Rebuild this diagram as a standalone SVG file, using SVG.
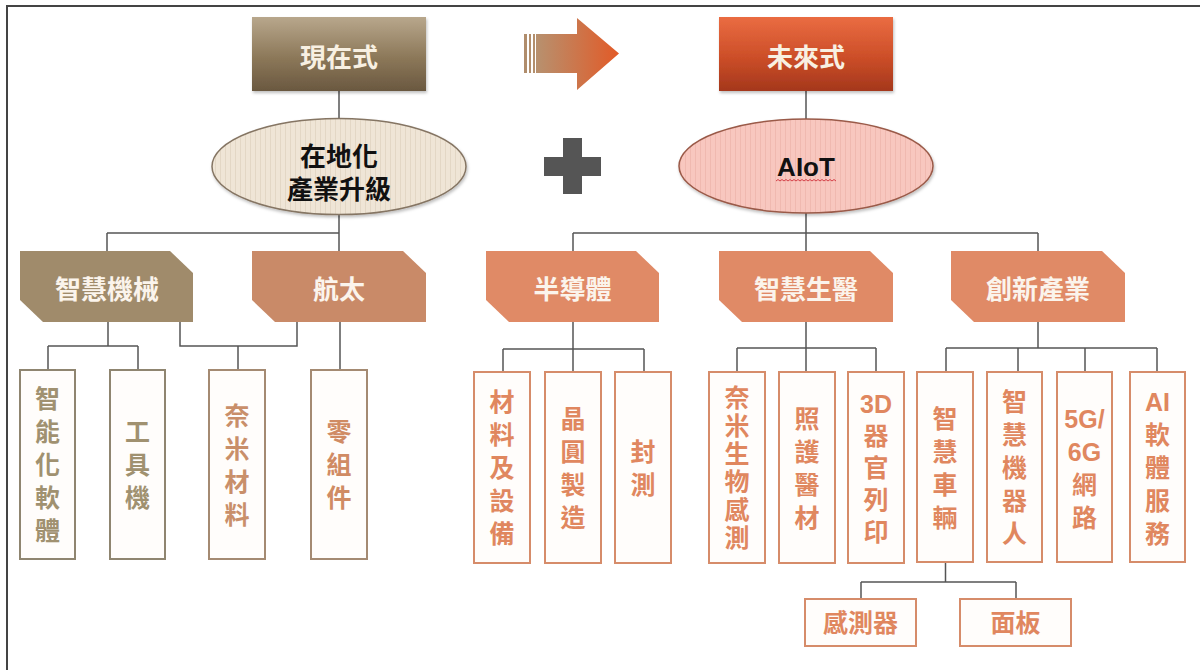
<svg xmlns="http://www.w3.org/2000/svg" width="1200" height="670" viewBox="0 0 1200 670">
<defs>
  <linearGradient id="gNow" x1="0" y1="0" x2="0" y2="1">
    <stop offset="0" stop-color="#b8a78c"/>
    <stop offset="0.55" stop-color="#8c7859"/>
    <stop offset="1" stop-color="#6a5840"/>
  </linearGradient>
  <linearGradient id="gFut" x1="0" y1="0" x2="0" y2="1">
    <stop offset="0" stop-color="#ea6c42"/>
    <stop offset="0.55" stop-color="#cc4e28"/>
    <stop offset="1" stop-color="#a4371c"/>
  </linearGradient>
  <linearGradient id="gArrow" x1="0" y1="0" x2="1" y2="0">
    <stop offset="0" stop-color="#b7916f"/>
    <stop offset="1" stop-color="#e25a27"/>
  </linearGradient>
  <pattern id="stripe1" width="5" height="10" patternUnits="userSpaceOnUse">
    <rect width="5" height="10" fill="#efe5d6"/>
    <rect width="1" height="10" fill="#e3d7c5"/>
  </pattern>
  <pattern id="stripe2" width="5" height="10" patternUnits="userSpaceOnUse">
    <rect width="5" height="10" fill="#f8c7bf"/>
    <rect width="1" height="10" fill="#f0b9b0"/>
  </pattern>
  <filter id="sh" x="-10%" y="-10%" width="125%" height="130%">
    <feDropShadow dx="1" dy="2" stdDeviation="1.5" flood-color="#000" flood-opacity="0.25"/>
  </filter>
</defs>
<style>
  text { font-family: "Liberation Sans", "Noto Sans CJK TC", sans-serif; font-weight: 700; text-anchor: middle; }
  .conn { fill: none; stroke: #555; stroke-width: 1.5; }
  .frame { fill: none; stroke: #444; stroke-width: 2; }
  .top { font-size: 26px; fill: #f8f0e2; }
  .cat { font-size: 26px; fill: #fbf4ec; }
  .ell { font-size: 26px; fill: #111; }
  .leafA { fill: #fffdfb; stroke: #8f8570; stroke-width: 2; }
  .leafB { fill: #fffdfb; stroke: #a48a72; stroke-width: 2; }
  .leafC { fill: #fffdfb; stroke: #d68c6a; stroke-width: 2; }
  .tA { font-size: 25px; fill: #a09170; }
  .tB { font-size: 25px; fill: #c98f6a; }
  .tC { font-size: 25px; fill: #e0875f; }
</style>

<path class="frame" d="M7,670 V6 H1200"/>

<g id="connectors">
  <path class="conn" d="M339,91 V119"/>
  <path class="conn" d="M339,214 V251 M107,233 H339 M107,233 V251"/>
  <path class="conn" d="M806,91 V119"/>
  <path class="conn" d="M806,213 V251 M573,233 H1038 M573,233 V251 M1038,233 V251"/>
  <path class="conn" d="M108,322 V346 M48,346 H138 M48,346 V370 M138,346 V370"/>
  <path class="conn" d="M180,322 V346 H297 V322 M238,346 V370"/>
  <path class="conn" d="M340,322 V370"/>
  <path class="conn" d="M573,322 V372 M503,349 H644 M503,349 V372 M644,349 V372"/>
  <path class="conn" d="M806,322 V372 M737,348 H876 M737,348 V372 M876,348 V372"/>
  <path class="conn" d="M1038,322 V348 M946,348 H1157 M946,348 V372 M1018,348 V372 M1085,348 V372 M1157,348 V372"/>
  <path class="conn" d="M945.5,562 V582 M861,582 H1016 M861,582 V599 M1016,582 V599"/>
</g>

<g id="node-now">
  <rect x="252" y="17" width="174" height="74" fill="url(#gNow)" filter="url(#sh)"/>
  <text class="top" x="339" y="67">現在式</text>
</g>

<g id="arrow">
  <rect x="524" y="34" width="3" height="39" fill="#b08d6c"/>
  <rect x="529" y="34" width="2" height="39" fill="#b28e6c"/>
  <rect x="533" y="34" width="2" height="39" fill="#b38f6d"/>
  <path d="M536,34 H577 V18 L619,53.5 L577,90 V73 H536 Z" fill="url(#gArrow)"/>
</g>

<g id="node-future">
  <rect x="719" y="17" width="174" height="74" fill="url(#gFut)" filter="url(#sh)"/>
  <text class="top" x="806" y="67">未來式</text>
</g>

<g id="node-local">
  <ellipse cx="339" cy="166.5" rx="127" ry="48" fill="url(#stripe1)" stroke="#857563" stroke-width="1.5" filter="url(#sh)"/>
  <text class="ell" x="339" y="166">在地化</text>
  <text class="ell" x="339" y="199">產業升級</text>
</g>

<g id="plus">
  <rect x="563" y="138" width="19" height="56" fill="#555"/>
  <rect x="544" y="157" width="57" height="19" fill="#555"/>
</g>

<g id="node-aiot">
  <ellipse cx="806" cy="166" rx="127" ry="47" fill="url(#stripe2)" stroke="#9a5a48" stroke-width="1.5" filter="url(#sh)"/>
  <text class="ell" x="806" y="176">AIoT</text>
  <path d="M776,181 l2,-1.5 l2,1.5 l2,-1.5 l2,1.5 l2,-1.5 l2,1.5 l2,-1.5 l2,1.5 l2,-1.5 l2,1.5 l2,-1.5 l2,1.5 l2,-1.5 l2,1.5 l2,-1.5 l2,1.5 l2,-1.5 l2,1.5 l2,-1.5 l2,1.5 l2,-1.5 l2,1.5 l2,-1.5 l2,1.5 l2,-1.5 l2,1.5 l2,-1.5 l2,1.5 l2,-1.5 l2,1.5" fill="none" stroke="#d0303a" stroke-width="0.9"/>
</g>

<g id="cat-machinery">
  <path d="M20,251 H170 L193,273 V322 H43 L20,300 Z" fill="#a08b6b"/>
  <text class="cat" x="107" y="299">智慧機械</text>
</g>
<g id="cat-aerospace">
  <path d="M252,251 H403 L426,273 V322 H275 L252,300 Z" fill="#c98a68"/>
  <text class="cat" x="339" y="299">航太</text>
</g>
<g id="cat-semi">
  <path d="M486,251 H636 L659,273 V322 H509 L486,300 Z" fill="#e08a66"/>
  <text class="cat" x="572.5" y="299">半導體</text>
</g>
<g id="cat-biomed">
  <path d="M719,251 H870 L893,273 V322 H742 L719,300 Z" fill="#e08a66"/>
  <text class="cat" x="806" y="299">智慧生醫</text>
</g>
<g id="cat-innov">
  <path d="M951,251 H1102 L1125,273 V322 H974 L951,300 Z" fill="#e08a66"/>
  <text class="cat" x="1038" y="299">創新產業</text>
</g>

<g id="leaf-software">
  <rect class="leafA" x="20" y="370" width="55" height="189"/>
  <text class="tA"><tspan x="47.5" y="408">智</tspan><tspan x="47.5" y="441">能</tspan><tspan x="47.5" y="474">化</tspan><tspan x="47.5" y="507">軟</tspan><tspan x="47.5" y="540">體</tspan></text>
</g>
<g id="leaf-machine-tool">
  <rect class="leafA" x="110" y="370" width="55" height="189"/>
  <text class="tA"><tspan x="137.5" y="441">工</tspan><tspan x="137.5" y="474">具</tspan><tspan x="137.5" y="507">機</tspan></text>
</g>
<g id="leaf-nanomaterial">
  <rect class="leafB" x="209" y="370" width="56" height="189"/>
  <text class="tB"><tspan x="237" y="424.5">奈</tspan><tspan x="237" y="457.5">米</tspan><tspan x="237" y="490.5">材</tspan><tspan x="237" y="523.5">料</tspan></text>
</g>
<g id="leaf-parts">
  <rect class="leafB" x="311" y="370" width="56" height="189"/>
  <text class="tB" style="fill:#d08b64"><tspan x="339" y="441">零</tspan><tspan x="339" y="474">組</tspan><tspan x="339" y="507">件</tspan></text>
</g>

<g id="leaf-equipment">
  <rect class="leafC" x="474" y="372" width="56" height="191"/>
  <text class="tC"><tspan x="502" y="411">材</tspan><tspan x="502" y="444">料</tspan><tspan x="502" y="477">及</tspan><tspan x="502" y="510">設</tspan><tspan x="502" y="543">備</tspan></text>
</g>
<g id="leaf-wafer">
  <rect class="leafC" x="545" y="372" width="56" height="191"/>
  <text class="tC"><tspan x="573" y="427.5">晶</tspan><tspan x="573" y="460.5">圓</tspan><tspan x="573" y="493.5">製</tspan><tspan x="573" y="526.5">造</tspan></text>
</g>
<g id="leaf-package">
  <rect class="leafC" x="615" y="372" width="56" height="191"/>
  <text class="tC"><tspan x="643" y="460.5">封</tspan><tspan x="643" y="493.5">測</tspan></text>
</g>
<g id="leaf-nanobio">
  <rect class="leafC" x="709" y="372" width="56" height="191"/>
  <text class="tC"><tspan x="737" y="407">奈</tspan><tspan x="737" y="435">米</tspan><tspan x="737" y="463">生</tspan><tspan x="737" y="491">物</tspan><tspan x="737" y="519">感</tspan><tspan x="737" y="547">測</tspan></text>
</g>
<g id="leaf-care">
  <rect class="leafC" x="779" y="372" width="56" height="191"/>
  <text class="tC"><tspan x="807" y="427.5">照</tspan><tspan x="807" y="460.5">護</tspan><tspan x="807" y="493.5">醫</tspan><tspan x="807" y="526.5">材</tspan></text>
</g>
<g id="leaf-3d">
  <rect class="leafC" x="848" y="372" width="56" height="191"/>
  <text class="tC"><tspan x="876" y="413">3D</tspan><tspan x="876" y="445">器</tspan><tspan x="876" y="477">官</tspan><tspan x="876" y="509">列</tspan><tspan x="876" y="541">印</tspan></text>
</g>
<g id="leaf-vehicle">
  <rect class="leafC" x="917" y="372" width="56" height="190"/>
  <text class="tC"><tspan x="945" y="427.5">智</tspan><tspan x="945" y="460.5">慧</tspan><tspan x="945" y="493.5">車</tspan><tspan x="945" y="526.5">輛</tspan></text>
</g>
<g id="leaf-robot">
  <rect class="leafC" x="987" y="372" width="55" height="190"/>
  <text class="tC"><tspan x="1014.5" y="411">智</tspan><tspan x="1014.5" y="444">慧</tspan><tspan x="1014.5" y="477">機</tspan><tspan x="1014.5" y="510">器</tspan><tspan x="1014.5" y="543">人</tspan></text>
</g>
<g id="leaf-network">
  <rect class="leafC" x="1057" y="372" width="55" height="190"/>
  <text class="tC"><tspan x="1084.5" y="427.5">5G/</tspan><tspan x="1084.5" y="460.5">6G</tspan><tspan x="1084.5" y="493.5">網</tspan><tspan x="1084.5" y="526.5">路</tspan></text>
</g>
<g id="leaf-ai">
  <rect class="leafC" x="1130" y="372" width="55" height="190"/>
  <text class="tC"><tspan x="1157.5" y="411">AI</tspan><tspan x="1157.5" y="444">軟</tspan><tspan x="1157.5" y="477">體</tspan><tspan x="1157.5" y="510">服</tspan><tspan x="1157.5" y="543">務</tspan></text>
</g>

<g id="leaf-sensor">
  <rect class="leafC" x="805" y="599" width="111" height="47"/>
  <text class="tC" x="860.5" y="632">感測器</text>
</g>
<g id="leaf-panel">
  <rect class="leafC" x="960" y="599" width="111" height="47"/>
  <text class="tC" x="1015.5" y="632">面板</text>
</g>
</svg>
